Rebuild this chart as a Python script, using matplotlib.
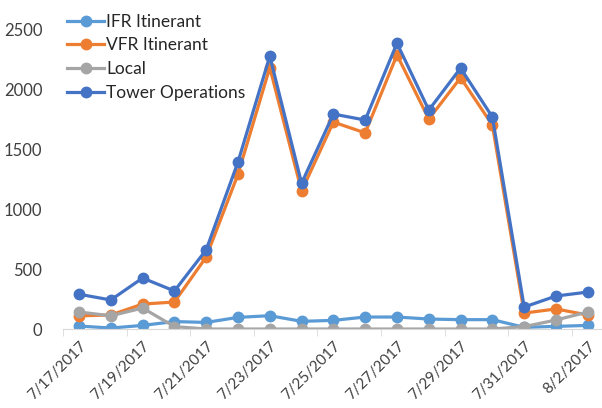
import numpy as np
import matplotlib.pyplot as plt

dates = ["7/17/2017", "7/18/2017", "7/19/2017", "7/20/2017", "7/21/2017",
         "7/22/2017", "7/23/2017", "7/24/2017", "7/25/2017", "7/26/2017",
         "7/27/2017", "7/28/2017", "7/29/2017", "7/30/2017", "7/31/2017",
         "8/1/2017", "8/2/2017"]

ifr = [25, 8, 30, 62, 55, 97, 111, 64, 72, 100, 100, 83, 78, 78, 14, 22, 30]
vfr = [110, 117, 208, 225, 600, 1290, 2180, 1150, 1725, 1635, 2285, 1750, 2095, 1700, 133, 167, 117]
local = [142, 110, 175, 20, 0, 0, 0, 0, 0, 0, 0, 0, 0, 0, 20, 75, 142]
tower = [290, 242, 425, 317, 660, 1392, 2275, 1215, 1792, 1742, 2383, 1825, 2175, 1767, 183, 275, 308]

series = [("IFR Itinerant", ifr, "#5B9BD5"),
          ("VFR Itinerant", vfr, "#ED7D31"),
          ("Local", local, "#A5A5A5"),
          ("Tower Operations", tower, "#4472C4")]

plt.rcParams['font.family'] = ['Lato', 'DejaVu Sans']

fig = plt.figure(figsize=(6.02, 4.08), dpi=100)
ax = fig.add_axes([0.1048, 0.1936, 0.898, 0.735])

x = np.arange(len(dates))
for name, vals, col in series:
    ax.plot(x, vals, color=col, lw=2.3, marker="o", ms=7.5, label=name)

ax.set_xlim(-0.5, len(dates) - 0.5)
ax.set_ylim(0, 2500)
ax.set_yticks(np.arange(0, 2501, 500))

ax.set_xticks(x[::2])
ax.set_xticklabels(dates[::2], rotation=45, ha="right", rotation_mode="anchor")
ax.set_xticks(np.arange(-0.5, len(dates), 2), minor=True)
ax.tick_params(axis="x", which="major", length=0, pad=7, labelsize=11, colors="#404040")
ax.tick_params(axis="x", which="minor", length=5, color="#D9D9D9")
ax.tick_params(axis="y", length=0, pad=15, labelsize=12, colors="#404040")

for s in ["top", "right", "left"]:
    ax.spines[s].set_visible(False)
ax.spines["bottom"].set_color("#D9D9D9")

leg = ax.legend(loc="upper left", bbox_to_anchor=(-0.005, 1.075), frameon=False,
                fontsize=12.5, handlelength=2.1, handletextpad=0.15,
                labelspacing=0.45, borderaxespad=0)
for t in leg.get_texts():
    t.set_color("#262626")

fig.savefig("out.png", dpi=100)
